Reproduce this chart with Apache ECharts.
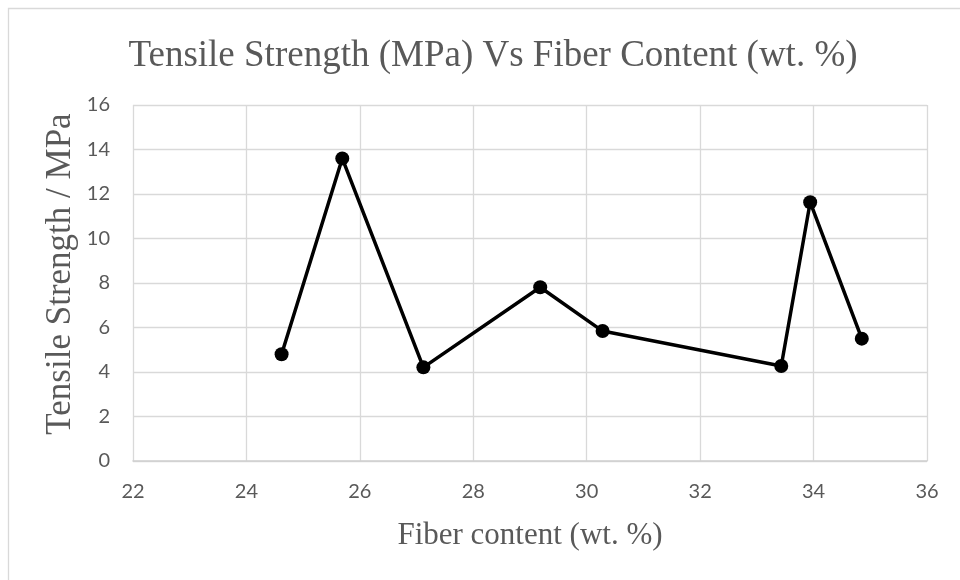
<!DOCTYPE html>
<html>
<head>
<meta charset="utf-8">
<script src="https://cdn.jsdelivr.net/npm/echarts@6/dist/echarts.min.js"></script>
<style>
  html, body { margin: 0; padding: 0; background: #ffffff; }
  #chart { width: 960px; height: 580px; }
</style>
</head>
<body>
<div id="chart"></div>
<script>
// Fiber content (wt. %) and tensile strength (MPa) of each sample
const fiberContent = [24.62, 25.69, 27.12, 29.18, 30.28, 33.43, 33.94, 34.85];
const tensileStrength = [4.80, 13.60, 4.21, 7.81, 5.84, 4.27, 11.63, 5.50];

const titleText = 'Tensile Strength (MPa) Vs Fiber Content (wt. %)';
const xAxisTitle = 'Fiber content (wt. %)';
const yAxisTitle = 'Tensile Strength / MPa';

const points = fiberContent.map((x, i) => [x, tensileStrength[i]]);

const serif = '"Liberation Serif", "Times New Roman", serif';
const sans = 'Lato, "Open Sans", sans-serif';
const textGray = '#595959';
const gridGray = '#d9d9d9';

const chart = echarts.init(document.getElementById('chart'), null, { renderer: 'canvas' });
chart.setOption({
  backgroundColor: '#ffffff',
  animation: false,
  title: {
    text: titleText,
    left: 488,
    top: 33,
    textAlign: 'center',
    textStyle: { fontFamily: serif, fontSize: 37, fontWeight: 'normal', color: textGray }
  },
  graphic: [
    {
      // chart area frame
      type: 'rect',
      shape: { x: 8.5, y: 8.5, width: 970, height: 590 },
      style: { fill: null, stroke: gridGray, lineWidth: 1.3 },
      silent: true
    },
    {
      // vertical axis title
      type: 'text',
      x: 61,
      y: 274,
      rotation: Math.PI / 2,
      style: {
        text: yAxisTitle,
        font: '35px ' + serif,
        fill: textGray,
        align: 'center',
        verticalAlign: 'middle'
      },
      silent: true
    }
  ],
  grid: { left: 133, right: 33, top: 105, bottom: 119 },
  xAxis: {
    type: 'value',
    min: 22, max: 36, interval: 2,
    name: xAxisTitle,
    nameLocation: 'middle',
    nameGap: 59,
    nameTextStyle: { fontFamily: serif, fontSize: 31, color: textGray },
    axisLine: { show: true, lineStyle: { color: '#cfcfcf', width: 1.5 } },
    axisTick: { show: false },
    axisLabel: { fontFamily: sans, fontSize: 20, color: textGray, margin: 21 },
    splitLine: { show: true, lineStyle: { color: gridGray, width: 1.3 } }
  },
  yAxis: {
    type: 'value',
    min: 0, max: 16, interval: 2,
    axisLine: { show: false },
    axisTick: { show: false },
    axisLabel: { fontFamily: sans, fontSize: 20, color: textGray, margin: 23 },
    splitLine: { show: true, lineStyle: { color: gridGray, width: 1.3 } }
  },
  series: [{
    type: 'line',
    data: points,
    lineStyle: { color: '#000000', width: 3.5 },
    itemStyle: { color: '#000000' },
    symbol: 'circle',
    symbolSize: 14
  }]
});
</script>
</body>
</html>
